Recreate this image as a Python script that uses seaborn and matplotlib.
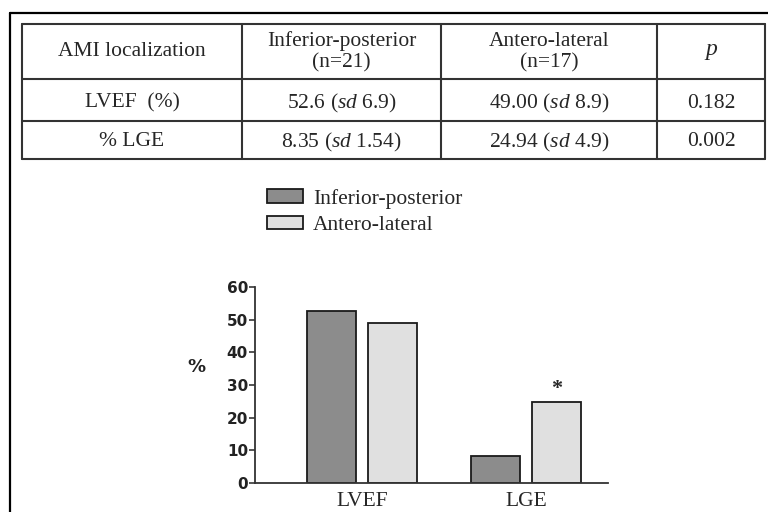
import matplotlib.pyplot as plt
import seaborn as sns
import pandas as pd
from matplotlib.lines import Line2D

# chart data
groups = ["LVEF", "LGE"]
series = ["Inferior-posterior", "Antero-lateral"]
inferior_vals = [52.6, 8.35]
antero_vals = [49.0, 24.94]
y_ticks = [0, 10, 20, 30, 40, 50, 60]

# table data
table_header = ["AMI localization", "Inferior-posterior\n(n=21)", "Antero-lateral\n(n=17)", "$p$"]
row_labels = ["LVEF  (%)", "% LGE"]
inf_cells = [r"52.6 ($sd$ 6.9)", r"8.35 ($sd$ 1.54)"]
ant_cells = [r"49.00 ($sd$ 8.9)", r"24.94 ($sd$ 4.9)"]
p_cells = ["0.182", "0.002"]

sns.set_style("white")
plt.rcParams["font.family"] = ["Liberation Serif", "DejaVu Serif"]
plt.rcParams["mathtext.fontset"] = "custom"
plt.rcParams["mathtext.it"] = "Liberation Serif:italic"
plt.rcParams["mathtext.rm"] = "Liberation Serif"

W, H = 768, 512
fig = plt.figure(figsize=(W / 100, H / 100), dpi=100)
FS = 15.5


def fx(px):
    return px / W


def fy(py):
    return 1 - py / H


# outer frame
fig.add_artist(Line2D([fx(10), fx(10)], [fy(13), fy(512)], color="black", lw=1.6))
fig.add_artist(Line2D([fx(10), fx(768)], [fy(13), fy(13)], color="black", lw=1.6))

# table grid
x_cols = [22, 242, 441, 657, 765]
y_rows = [24, 79, 121, 159]
for yr in y_rows:
    fig.add_artist(Line2D([fx(x_cols[0]), fx(x_cols[-1])], [fy(yr), fy(yr)], color="#333333", lw=1.5))
for xc in x_cols:
    fig.add_artist(Line2D([fx(xc), fx(xc)], [fy(y_rows[0]), fy(y_rows[-1])], color="#333333", lw=1.5))

centers = [(x_cols[i] + x_cols[i + 1]) / 2 for i in range(4)]
for i, txt in enumerate(table_header):
    fs = 17 if i == 3 else FS
    fig.text(fx(centers[i]), fy(52), txt, ha="center", va="center", fontsize=fs, linespacing=1.18)
row_y = [103, 142]
for r in range(2):
    cells = [row_labels[r], inf_cells[r], ant_cells[r], p_cells[r]]
    for i, txt in enumerate(cells):
        fig.text(fx(centers[i]), fy(row_y[r]), txt, ha="center", va="center", fontsize=FS)

# bar chart
df = pd.DataFrame({
    "group": groups * 2,
    "series": [series[0]] * len(groups) + [series[1]] * len(groups),
    "value": inferior_vals + antero_vals,
})

ax = fig.add_axes([fx(255), fy(483), fx(608) - fx(255), fy(287) - fy(483)])
sns.barplot(data=df, x="group", y="value", hue="series", order=groups, hue_order=series,
            palette=["#8c8c8c", "#e0e0e0"], width=0.744, gap=0.196,
            edgecolor="#1a1a1a", linewidth=1.3, ax=ax, errorbar=None)

ax.set_xlim(-0.652, 1.5)
ax.set_ylim(0, 60)
ax.set_yticks(y_ticks)
ax.set_xlabel("")
ax.set_ylabel("")
sns.despine(ax=ax)
for side in ("left", "bottom"):
    ax.spines[side].set_linewidth(1.3)
    ax.spines[side].set_color("#333333")
ax.tick_params(axis="y", left=True, length=4, width=1.1, pad=1, labelsize=11)
ax.tick_params(axis="x", bottom=False, pad=3, labelsize=FS)
for lbl in ax.get_yticklabels():
    lbl.set_family("DejaVu Sans")
    lbl.set_fontweight("bold")
    lbl.set_color("#222222")

ax.text(1 + 0.186, 28.8, "*", ha="center", va="center", fontsize=16, fontweight="bold")
fig.text(fx(196), fy(367), "%", ha="center", va="center", fontsize=13, fontweight="bold",
         family="DejaVu Sans", color="#222222")

leg = ax.legend(loc="upper left", bbox_to_anchor=(fx(267), fy(189)), bbox_transform=fig.transFigure,
                frameon=False, fontsize=FS, handlelength=1.67, handleheight=0.6,
                labelspacing=0.32, handletextpad=0.47, borderaxespad=0, borderpad=0)

fig.savefig("out.png", dpi=100)
